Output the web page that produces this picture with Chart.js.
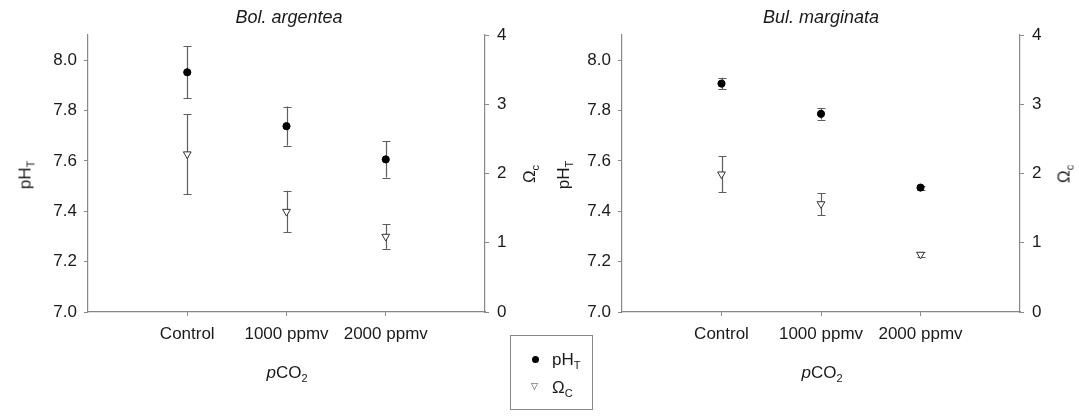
<!DOCTYPE html>
<html>
<head>
<meta charset="utf-8">
<script src="https://cdn.jsdelivr.net/npm/chart.js@4"></script>
<style>
  body { margin: 0; background: #fff; font-family: "Liberation Sans", Arial, sans-serif; color: #1a1a1a; }
  #wrap { position: relative; width: 1079px; height: 417px; overflow: hidden; }
  canvas { position: absolute; top: 0; }
  .lbl { position: absolute; white-space: nowrap; font-size: 17px; line-height: 17px; }
  .title { font-style: italic; font-size: 18px; transform: translateX(-50%); }
  .rot { transform: translate(-50%, -50%) rotate(-90deg); }
  .xt { transform: translateX(-50%); }
  sub { font-size: 11px; vertical-align: -4px; line-height: 0; }
  #legend { position: absolute; left: 510px; top: 335px; width: 83px; height: 75px; border: 1px solid #888; box-sizing: border-box; }
  .dot { position: absolute; width: 7px; height: 7px; border-radius: 50%; background: #000; }
  .tri { position: absolute; font-family: "DejaVu Sans"; font-size: 9px; color: #333; }
</style>
</head>
<body>
<div id="wrap">
  <canvas id="left" width="540" height="417" style="left:0"></canvas>
  <canvas id="right" width="539" height="417" style="left:540px"></canvas>

  <div class="lbl title" style="left:289px; top:9px">Bol. argentea</div>
  <div class="lbl title" style="left:821px; top:9px">Bul. marginata</div>

  <div class="lbl rot" style="left:25px; top:175px">pH<sub>T</sub></div>
  <div class="lbl rot" style="left:529px; top:174px">Ω<sub>c</sub></div>
  <div class="lbl rot" style="left:563px; top:175px">pH<sub>T</sub></div>
  <div class="lbl rot" style="left:1064px; top:174px">Ω<sub>c</sub></div>

  <div class="lbl xt" style="left:287px; top:364px"><i>p</i>CO<sub>2</sub></div>
  <div class="lbl xt" style="left:822px; top:364px"><i>p</i>CO<sub>2</sub></div>

  <div id="legend">
    <div class="dot" style="left:21px; top:20px"></div>
    <div class="lbl" style="left:41px; top:15px">pH<sub>T</sub></div>
    <div class="tri" style="left:20px; top:45px">▽</div>
    <div class="lbl" style="left:41px; top:43px">Ω<sub>C</sub></div>
  </div>
</div>

<script>
const categories = ['Control', '1000 ppmv', '2000 ppmv'];
const phTicks = [7.0, 7.2, 7.4, 7.6, 7.8, 8.0];
const omegaTicks = [0, 1, 2, 3, 4];

// Bol. argentea
const argPh = [7.952, 7.738, 7.606];
const argPhErr = [0.104, 0.078, 0.072];
const argOmega = [2.28, 1.45, 1.09];
const argOmegaErr = [0.575, 0.30, 0.175];

// Bul. marginata
const marPh = [7.907, 7.787, 7.494];
const marPhErr = [0.023, 0.023, 0.008];
const marOmega = [1.99, 1.56, 0.83];
const marOmegaErr = [0.26, 0.16, 0.03];

const axisColor = '#888';
const tickFont = { family: '"Liberation Sans", Arial, sans-serif', size: 17 };

// draws vertical error bars with caps, behind the markers
const errorBars = {
  id: 'errorBars',
  beforeDatasetsDraw(chart) {
    const ctx = chart.ctx;
    ctx.save();
    ctx.strokeStyle = '#5e5e5e';
    ctx.lineWidth = 1.2;
    chart.data.datasets.forEach((ds, i) => {
      const meta = chart.getDatasetMeta(i);
      const yScale = chart.scales[ds.yAxisID];
      meta.data.forEach((pt, j) => {
        const v = ds.data[j].y, e = ds.err[j];
        const x = Math.round(pt.x) + 0.5;
        const y1 = yScale.getPixelForValue(v + e);
        const y2 = yScale.getPixelForValue(v - e);
        ctx.beginPath();
        ctx.moveTo(x, y1); ctx.lineTo(x, y2);
        ctx.moveTo(x - 4, Math.round(y1) + 0.5); ctx.lineTo(x + 4, Math.round(y1) + 0.5);
        ctx.moveTo(x - 4, Math.round(y2) + 0.5); ctx.lineTo(x + 4, Math.round(y2) + 0.5);
        ctx.stroke();
      });
    });
    ctx.restore();
  }
};

function pts(vals) {
  return vals.map((v, i) => ({ x: i + 1, y: v }));
}

function makeChart(id, ph, phErr, om, omErr, leftW, rightW) {
  return new Chart(document.getElementById(id), {
    type: 'scatter',
    data: {
      datasets: [
        {
          label: 'pHT', data: pts(ph), err: phErr, yAxisID: 'y',
          pointStyle: 'circle', pointRadius: 3.6, pointHoverRadius: 3.6,
          backgroundColor: '#000', borderColor: '#000', borderWidth: 1
        },
        {
          label: 'ΩC', data: pts(om), err: omErr, yAxisID: 'y2',
          pointStyle: 'triangle', rotation: 180, pointRadius: 4.5, pointHoverRadius: 4.5,
          backgroundColor: '#fff', borderColor: '#333', borderWidth: 1
        }
      ]
    },
    options: {
      responsive: false,
      animation: false,
      layout: { padding: { top: 35, left: 0, right: 0, bottom: 0 } },
      plugins: { legend: { display: false }, tooltip: { enabled: false } },
      scales: {
        x: {
          type: 'linear', min: 0, max: 4,
          afterBuildTicks: s => { s.ticks = [1, 2, 3].map(v => ({ value: v })); },
          afterFit: s => { s.height = 105; },
          ticks: {
            callback: v => categories[v - 1], font: tickFont, color: '#1a1a1a',
            padding: 8, maxRotation: 0, autoSkip: false
          },
          grid: { drawOnChartArea: false, drawTicks: true, tickLength: 4, color: axisColor },
          border: { color: axisColor, width: 1.2 }
        },
        y: {
          position: 'left', min: 7.0, max: 8.1,
          afterBuildTicks: s => { s.ticks = phTicks.map(v => ({ value: v })); },
          afterFit: s => { s.width = leftW; },
          ticks: { callback: v => v.toFixed(1), font: tickFont, color: '#1a1a1a', padding: 7 },
          grid: { drawOnChartArea: false, drawTicks: true, tickLength: 4, color: axisColor },
          border: { color: axisColor, width: 1.2 }
        },
        y2: {
          position: 'right', min: 0, max: 4,
          afterBuildTicks: s => { s.ticks = omegaTicks.map(v => ({ value: v })); },
          afterFit: s => { s.width = rightW; },
          ticks: { font: tickFont, color: '#1a1a1a', padding: 8 },
          grid: { drawOnChartArea: false, drawTicks: true, tickLength: 4, color: axisColor },
          border: { color: axisColor, width: 1.2 }
        }
      }
    },
    plugins: [errorBars]
  });
}

makeChart('left', argPh, argPhErr, argOmega, argOmegaErr, 88, 55);
makeChart('right', marPh, marPhErr, marOmega, marOmegaErr, 82, 59);
</script>
</body>
</html>
